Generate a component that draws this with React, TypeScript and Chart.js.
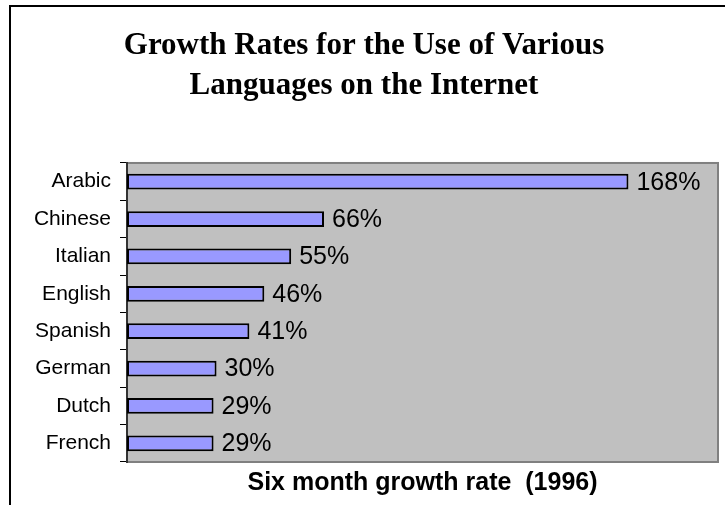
import React, { useEffect, useRef } from "react";
import { Chart, registerables } from "chart.js";

Chart.register(...registerables);

const categories = ["Arabic", "Chinese", "Italian", "English", "Spanish", "German", "Dutch", "French"];
const growthValues = [168, 66, 55, 46, 41, 30, 29, 29];
const titleLines = ["Growth Rates for the Use of Various", "Languages on the Internet"];
const xAxisTitle = "Six month growth rate  (1996)";

const W = 725;
const H = 505;

const decorPlugin = {
  id: "decor",
  beforeDraw(chart: any) {
    const { ctx, chartArea } = chart;
    ctx.save();
    ctx.fillStyle = "#ffffff";
    ctx.fillRect(0, 0, W, H);
    // outer frame (left + top)
    ctx.strokeStyle = "#000000";
    ctx.lineWidth = 2;
    ctx.beginPath();
    ctx.moveTo(10, H + 2);
    ctx.lineTo(10, 6);
    ctx.lineTo(W + 2, 6);
    ctx.stroke();
    // plot area
    ctx.fillStyle = "#C0C0C0";
    ctx.fillRect(chartArea.left, chartArea.top, chartArea.right - chartArea.left, chartArea.bottom - chartArea.top);
    ctx.strokeStyle = "#808080";
    ctx.lineWidth = 2;
    ctx.strokeRect(chartArea.left, chartArea.top, chartArea.right - chartArea.left, chartArea.bottom - chartArea.top);
    ctx.restore();
  },
  afterDatasetsDraw(chart: any) {
    const { ctx } = chart;
    const meta = chart.getDatasetMeta(0);
    ctx.save();
    ctx.fillStyle = "#000000";
    ctx.font = "25px 'Liberation Sans', Arial, sans-serif";
    ctx.textAlign = "left";
    ctx.textBaseline = "middle";
    meta.data.forEach((el: any, i: number) => {
      ctx.fillText(growthValues[i] + "%", el.x + 8, el.y + 1);
    });
    ctx.restore();
  },
};

export default function App() {
  const ref = useRef<HTMLCanvasElement | null>(null);
  useEffect(() => {
    if (!ref.current) return;
    const chart = new Chart(ref.current, {
      type: "bar",
      data: {
        labels: categories,
        datasets: [
          {
            data: growthValues,
            backgroundColor: "#9999FF",
            borderColor: "#000000",
            borderWidth: 2,
            borderSkipped: false,
            categoryPercentage: 1,
            barPercentage: 0.42,
          },
        ],
      },
      options: {
        indexAxis: "y",
        responsive: false,
        animation: false,
        devicePixelRatio: 1,
        layout: { padding: { left: 10, right: 7, top: 0, bottom: 0 } },
        plugins: {
          legend: { display: false },
          tooltip: { enabled: false },
          title: {
            display: true,
            text: titleLines,
            color: "#000000",
            font: { family: "'Liberation Serif', 'Times New Roman', serif", size: 31, weight: "bold", lineHeight: 1.29 },
            padding: { top: 26, bottom: 57 },
          },
        },
        scales: {
          x: {
            min: 0,
            max: 198,
            ticks: { display: false },
            grid: { display: false },
            border: { display: false },
            title: {
              display: true,
              text: xAxisTitle,
              color: "#000000",
              font: { family: "'Liberation Sans', Arial, sans-serif", size: 25, weight: "bold", lineHeight: 1.2 },
              padding: { top: 0, bottom: 7 },
            },
            afterFit(axis: any) {
              axis.height = 43;
            },
          },
          y: {
            ticks: {
              color: "#000000",
              font: { family: "'Liberation Sans', Arial, sans-serif", size: 21 },
              padding: 9,
            },
            grid: {
              offset: true,
              drawOnChartArea: false,
              drawTicks: true,
              tickLength: 7,
              color: "#000000",
              lineWidth: 1,
            },
            border: { display: true, color: "#333333", width: 2 },
            afterFit(axis: any) {
              axis.width = 117;
            },
          },
        },
      },
      plugins: [decorPlugin],
    } as any);
    return () => chart.destroy();
  }, []);
  return (
    <div style={{ position: "absolute", left: 0, top: 0, width: W, height: H }}>
      <canvas ref={ref} width={W} height={H} style={{ display: "block" }} />
    </div>
  );
}
